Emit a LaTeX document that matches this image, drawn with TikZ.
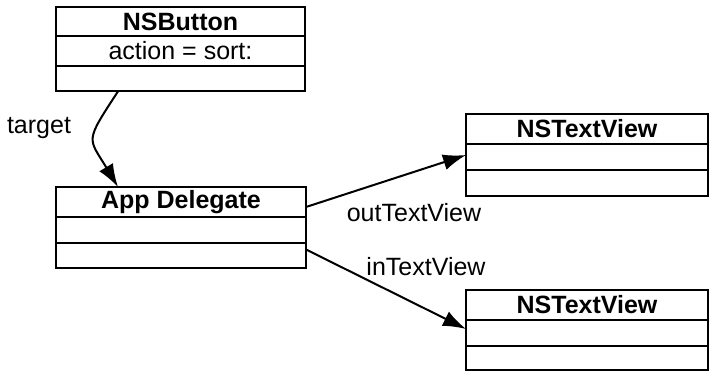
\documentclass[tikz,border=0pt]{standalone}
\usepackage{fontspec}
\setmainfont{Liberation Sans}
\usetikzlibrary{arrows.meta,calc}
\begin{document}
\begin{tikzpicture}[x=0.5pt,y=-0.5pt,
  cell/.style={draw, line width=1pt, inner sep=0pt, outer sep=0pt, anchor=north west,
    font=\fontsize{12.5}{14}\selectfont},
  title/.style={cell, font=\fontsize{12.5}{14}\selectfont\bfseries},
  lbl/.style={inner sep=0pt, font=\fontsize{12.5}{14}\selectfont},
  arr/.style={line width=1pt, -{Latex[length=11.5pt,width=8pt]}}]
\useasboundingbox (0,0) rectangle (710,373);
% NSButton
\node[title, minimum width=124.5pt, minimum height=14.5pt] (btnT) at (56,7) {NSButton};
\node[cell, minimum width=124.5pt, minimum height=15pt] (btnM) at (56,36) {action = sort:};
\node[cell, minimum width=124.5pt, minimum height=12.5pt] (btnB) at (56,66) {};
% App Delegate
\node[title, minimum width=125pt, minimum height=15pt] (adT) at (56,187) {App Delegate};
\node[cell, minimum width=125pt, minimum height=13pt] (adM) at (56,217) {};
\node[cell, minimum width=125pt, minimum height=12.5pt] (adB) at (56,243) {};
% NSTextView 1
\node[title, minimum width=121pt, minimum height=15pt] (tvaT) at (466,114) {NSTextView};
\node[cell, minimum width=121pt, minimum height=13pt] (tvaM) at (466,144) {};
\node[cell, minimum width=121pt, minimum height=13pt] (tvaB) at (466,170) {};
% NSTextView 2
\node[title, minimum width=121pt, minimum height=15pt] (tvbT) at (466,290) {NSTextView};
\node[cell, minimum width=121pt, minimum height=13pt] (tvbM) at (466,320) {};
\node[cell, minimum width=121pt, minimum height=12pt] (tvbB) at (466,346) {};
% labels
\node[lbl] (ltarget) at (39,128) {target};
\node[lbl] (lout) at (414,213) {outTextView};
\node[lbl] (lin) at (426,267) {inTextView};
% connectors
\draw[arr] ($(btnB.south west)!0.25!(btnB.south east)$)
  .. controls +(-34,52) and +(-30,-50) .. ($(adT.north west)!0.248!(adT.north east)$);
\draw[arr] ($(adT.east)+(0,5)$) -- ($(tvaM.west)+(0,-2)$);
\draw[arr] ($(adB.east)+(0,-6)$) -- ($(tvbM.west)+(0,-4)$);
\end{tikzpicture}
\end{document}
